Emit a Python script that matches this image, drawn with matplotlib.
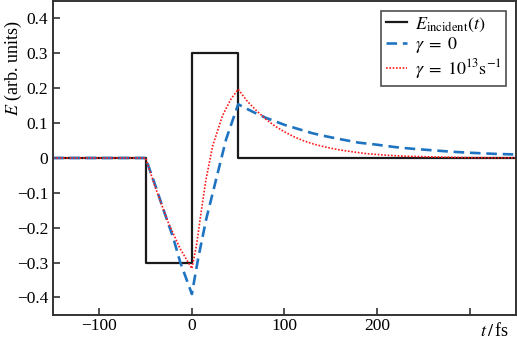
import numpy as np
import matplotlib
matplotlib.use('Agg')
import matplotlib.pyplot as plt
from matplotlib.ticker import FuncFormatter

plt.rcParams['font.family'] = 'serif'
plt.rcParams['font.serif'] = ['Liberation Serif', 'DejaVu Serif']
plt.rcParams['mathtext.fontset'] = 'stix'

# incident pulse (step function)
t_inc = [-150, -50, -50, 0, 0, 50, 50, 350]
e_inc = [0, 0, -0.3, -0.3, 0.3, 0.3, 0, 0]

# gamma = 0
t_g0 = [-150, -50, -40, -31, -20, -12.7, 0, 6.7, 15.6, 26.3, 37, 50,
        60, 70, 80, 90, 100, 115, 130, 145, 160, 180, 200, 220, 240,
        260, 280, 300, 325, 350]
e_g0 = [0, 0, -0.075, -0.146, -0.23, -0.298, -0.39, -0.289, -0.174, -0.06, 0.054, 0.154,
        0.140, 0.127, 0.115, 0.105, 0.095, 0.083, 0.071, 0.062, 0.054, 0.044,
        0.038, 0.031, 0.026, 0.022, 0.018, 0.015, 0.012, 0.010]

# gamma = 1e13 s^-1
t_g13 = [-150, -50, -40, -31, -25.7, -12.7, 0, 5, 10, 15, 22.5, 33, 42, 50,
         60, 70, 80, 90, 100, 110, 120, 130, 140, 150, 160, 175, 190,
         210, 230, 260, 300, 350]
e_g13 = [0, 0, -0.08, -0.146, -0.184, -0.26, -0.317, -0.25, -0.155, -0.065, 0.035, 0.121, 0.168, 0.197,
         0.162, 0.135, 0.111, 0.091, 0.075, 0.061, 0.050, 0.041, 0.034, 0.028,
         0.023, 0.017, 0.012, 0.008, 0.005, 0.003, 0.001, 0.0005]

fig = plt.figure(figsize=(5.17, 3.39), dpi=100)
ax = fig.add_axes([0.1025, 0.071, 0.8955, 0.926])

ax.plot(t_inc, e_inc, color='#1a1a1a', lw=1.6, label=r'$E_{\mathrm{incident}}(t)$')
ax.plot(t_g0, e_g0, color='#1f74c2', lw=1.9, ls=(0, (4, 2.2)), label=r'$\gamma\;=\;0$')
ax.plot(t_g13, e_g13, color='#ff1a1a', lw=1.2, ls=(0, (1, 1)),
        label=r'$\gamma\;=\;10^{13}\mathrm{s}^{-1}$')

ax.set_xlim(-150, 350)
ax.set_ylim(-0.45, 0.45)
ax.set_xticks([-100, 0, 100, 200, 300])
ax.set_xticklabels(['\u2212100', '0', '100', '200', ''])
ax.set_yticks(np.arange(-0.4, 0.41, 0.1))
ax.yaxis.set_major_formatter(FuncFormatter(
    lambda v, p: '0' if abs(v) < 1e-9 else ('%.1f' % v).replace('-', '\u2212')))
ax.tick_params(direction='in', length=5, width=1.2, labelsize=12.5, color='#333333',
               top=False, right=False)
ax.tick_params(axis='x', pad=2)
for s in ax.spines.values():
    s.set_linewidth(1.4)
    s.set_color('#333333')

ax.text(0.922, -0.022, r'$t\,/\,$fs', transform=ax.transAxes, fontsize=13,
        ha='left', va='top')
fig.text(0.006, 0.80, r'$E$ (arb. units)', rotation=90, fontsize=13,
         ha='left', va='center')

leg = ax.legend(loc='upper right', fontsize=13, frameon=True, fancybox=False,
                edgecolor='#222222', handlelength=1.2, handletextpad=0.4,
                borderpad=0.25, labelspacing=0.1, borderaxespad=0.55)
leg.get_frame().set_linewidth(1.2)

fig.savefig('out.png', dpi=100)
